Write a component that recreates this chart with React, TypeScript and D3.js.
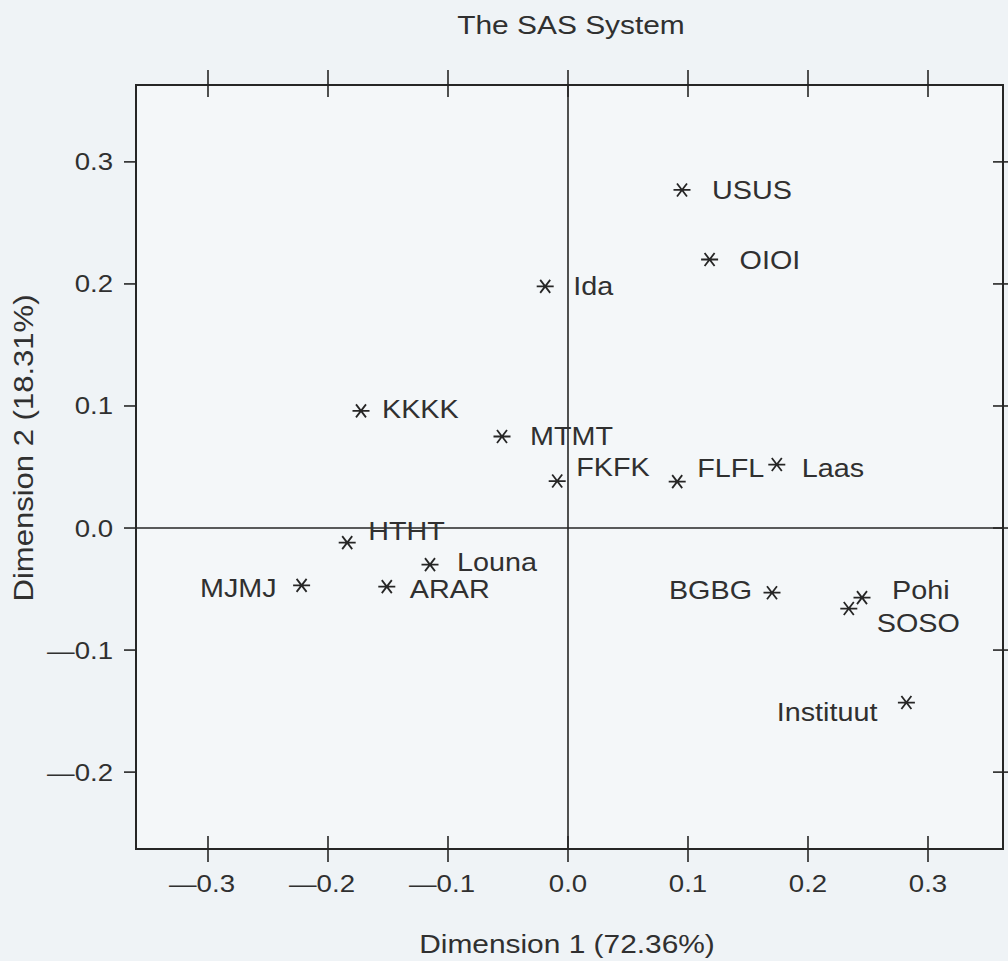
import React from 'react'
import * as d3 from 'd3'

// Correspondence analysis output
const pointNames = ['USUS', 'OIOI', 'Ida', 'KKKK', 'MTMT', 'FKFK', 'FLFL', 'Laas', 'HTHT', 'Louna', 'MJMJ', 'ARAR', 'BGBG', 'Pohi', 'SOSO', 'Instituut']
const dim1Values = [0.095, 0.118, -0.019, -0.1725, -0.055, -0.009, 0.091, 0.174, -0.184, -0.115, -0.222, -0.151, 0.170, 0.245, 0.234, 0.282]
const dim2Values = [0.277, 0.220, 0.198, 0.096, 0.075, 0.0385, 0.038, 0.052, -0.012, -0.030, -0.047, -0.048, -0.053, -0.057, -0.066, -0.143]

const xTicks = [-0.3, -0.2, -0.1, 0.0, 0.1, 0.2, 0.3]
const yTicks = [-0.2, -0.1, 0.0, 0.1, 0.2, 0.3]

const TITLE = 'The SAS System'
const X_TITLE = 'Dimension 1 (72.36%)'
const Y_TITLE = 'Dimension 2 (18.31%)'

// label placement (SAS puts them around the symbol to avoid collisions)
const LABEL_POS: Record<string, [string, number, number]> = {
  USUS: ['start', 30, 0],
  OIOI: ['start', 30, 0],
  Ida: ['start', 28, 0],
  KKKK: ['start', 21, -2],
  MTMT: ['start', 28, 0],
  FKFK: ['start', 19, -14],
  FLFL: ['start', 20, -14],
  Laas: ['start', 25, 3],
  HTHT: ['start', 21, -12],
  Louna: ['start', 27, -3],
  MJMJ: ['end', -25, 3],
  ARAR: ['start', 23, 2],
  BGBG: ['end', -20, -3],
  Pohi: ['start', 30, -8],
  SOSO: ['start', 28, 14],
  Instituut: ['end', -29, 9],
}

const W = 1008
const H = 961
const FRAME = { left: 136, right: 1003, top: 85, bottom: 849 }
const FONT = '"Liberation Sans", Arial, sans-serif'
const INK = '#303030'
const LINE = '#262626'
const SX = 1.15

function SText({ x, y, anchor = 'middle', size = 24, rotate = 0, children }: any) {
  return (
    <g transform={`translate(${x},${y}) rotate(${rotate}) scale(${SX},1)`}>
      <text x={0} y={0} textAnchor={anchor} fontFamily={FONT} fontSize={size} fill={INK}>
        {children}
      </text>
    </g>
  )
}

const fmt = (d: number) => (d < 0 ? '\u2014' : '') + Math.abs(d).toFixed(1)

// asterisk symbol like the SAS "star" (horizontal bar + two diagonals)
const STAR = 'M-8.5,0L8.5,0M-5,-6.5L5,6.5M-5,6.5L5,-6.5'

export default function App() {
  const x = d3.scaleLinear().domain([-0.36, 0.3625]).range([FRAME.left, FRAME.right])
  const y = d3.scaleLinear().domain([-0.263, 0.363]).range([FRAME.bottom, FRAME.top])

  const pts = pointNames.map((name, i) => ({ name, dx: dim1Values[i], dy: dim2Values[i] }))
  const cap = 25 * 0.36

  return (
    <svg width={W} height={H} style={{ position: 'absolute', left: 0, top: 0, display: 'block' }}>
      <rect x={0} y={0} width={W} height={H} fill="#eff3f6" />
      <rect x={FRAME.left} y={FRAME.top} width={FRAME.right - FRAME.left} height={FRAME.bottom - FRAME.top} fill="#f4f7f9" />

      <SText x={571} y={34} size={26}>{TITLE}</SText>

      {/* reference lines at the origin */}
      <line x1={x(0)} x2={x(0)} y1={FRAME.top} y2={FRAME.bottom} stroke={LINE} strokeWidth={1.6} />
      <line x1={FRAME.left} x2={FRAME.right} y1={y(0)} y2={y(0)} stroke={LINE} strokeWidth={1.6} />

      {/* frame */}
      <rect x={FRAME.left} y={FRAME.top} width={FRAME.right - FRAME.left} height={FRAME.bottom - FRAME.top}
        fill="none" stroke={LINE} strokeWidth={2} />

      {/* x ticks top and bottom */}
      {xTicks.map(t => (
        <g key={'x' + t}>
          <line x1={x(t)} x2={x(t)} y1={FRAME.top - 15} y2={FRAME.top + 12} stroke={LINE} strokeWidth={1.6} />
          <line x1={x(t)} x2={x(t)} y1={FRAME.bottom - 13} y2={FRAME.bottom + 13} stroke={LINE} strokeWidth={1.6} />
          <SText x={x(t) - (t < 0 ? 6 : 0)} y={892} size={24}>{fmt(t)}</SText>
        </g>
      ))}

      {/* y ticks left and right */}
      {yTicks.map(t => (
        <g key={'y' + t}>
          <line x1={FRAME.left - 12} x2={FRAME.left} y1={y(t)} y2={y(t)} stroke={LINE} strokeWidth={1.6} />
          <line x1={FRAME.right - 10} x2={FRAME.right + 10} y1={y(t)} y2={y(t)} stroke={LINE} strokeWidth={1.6} />
          <SText x={113} y={y(t) + 8.5} anchor="end" size={24}>{fmt(t)}</SText>
        </g>
      ))}

      <SText x={567} y={953} size={26}>{X_TITLE}</SText>
      <SText x={33} y={448} size={27} rotate={-90}>{Y_TITLE}</SText>

      {/* points */}
      {pts.map(p => {
        const px = x(p.dx)
        const py = y(p.dy)
        const [anchor, ox, oy] = LABEL_POS[p.name] || ['start', 24, 0]
        return (
          <g key={p.name}>
            <path d={STAR} transform={`translate(${px},${py})`} stroke={LINE} strokeWidth={1.8} fill="none" />
            <SText x={px + ox} y={py + oy + cap} anchor={anchor} size={25}>{p.name}</SText>
          </g>
        )
      })}
    </svg>
  )
}
